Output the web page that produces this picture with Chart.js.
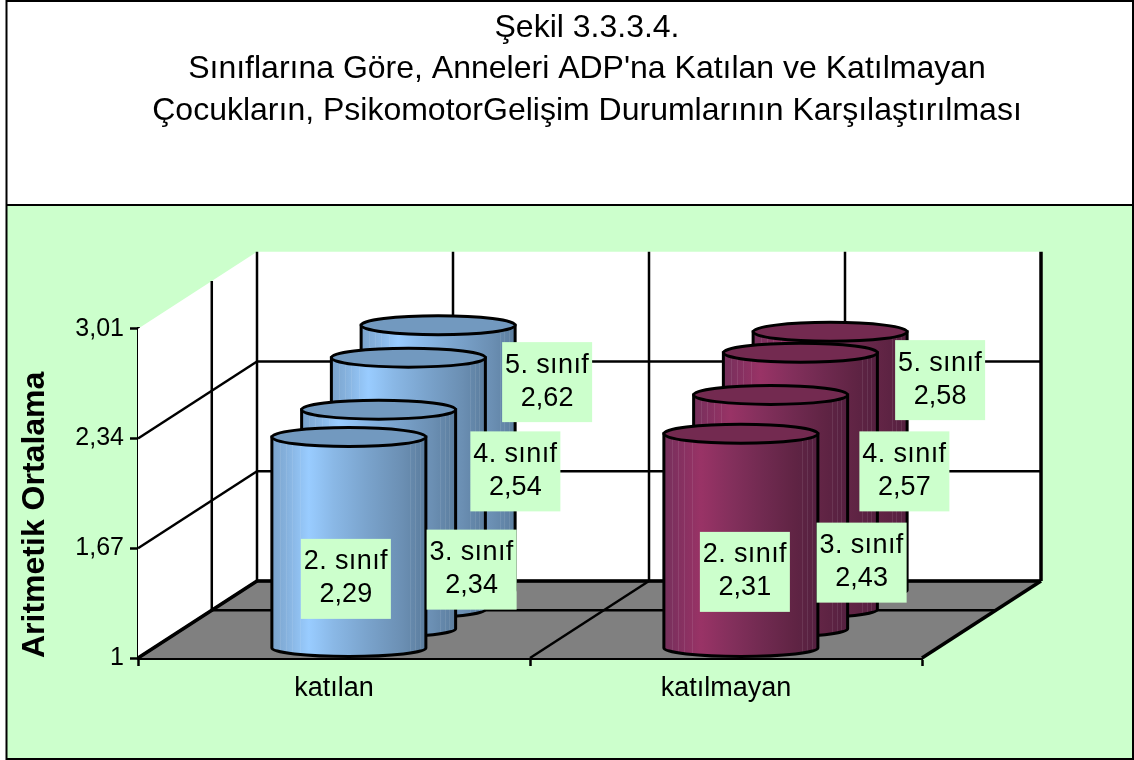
<!DOCTYPE html>
<html>
<head>
<meta charset="utf-8">
<style>html,body{margin:0;padding:0;background:#fff}canvas{display:block}</style>
<script src="https://cdn.jsdelivr.net/npm/chart.js@4/dist/chart.umd.js"></script>
</head>
<body>
<canvas id="c" width="1134" height="760"></canvas>
<script>
const categories = ['katılan', 'katılmayan'];
const seriesNames = ['2. sınıf', '3. sınıf', '4. sınıf', '5. sınıf'];
const sinif2 = [2.29, 2.31];
const sinif3 = [2.34, 2.43];
const sinif4 = [2.54, 2.57];
const sinif5 = [2.62, 2.58];
const yTicks = [1, 1.67, 2.34, 3.01];
const yTickLabels = ['1', '1,67', '2,34', '3,01'];
const titleLines = ['Şekil 3.3.3.4.', "Sınıflarına Göre, Anneleri ADP'na Katılan ve Katılmayan", 'Çocukların, PsikomotorGelişim Durumlarının Karşılaştırılması'];
const axisTitle = 'Aritmetik Ortalama';

const FONT = '"Liberation Sans", Arial, sans-serif';
const GREEN = '#ccffcc';
const DX = 119, DY = 77;            // projected depth of the 3D box
const SIDE_GRID_DEPTH = 0.62;       // depth of the marker line on the side wall
const blueStops = [[0,'#7aa3cc'],[0.1,'#86b2de'],[0.24,'#99ccff'],[0.4,'#8ab8e6'],[0.62,'#7aa3cc'],[0.85,'#6b8fb3'],[1,'#5b7d9e']];
const maroonStops = [[0,'#75305b'],[0.1,'#843060'],[0.24,'#993366'],[0.42,'#85305d'],[0.65,'#702a50'],[0.85,'#602444'],[1,'#552040']];
const capColor = ['#7299bf', '#732a50'];
const streakAt = [0.05, 0.09, 0.13, 0.18, 0.9, 0.93, 0.96];
// label-box centre, relative to the bar base centre (per category, per series)
const labelShift = [
  [[-3,-69],[93,-59],[107,-138],[109,-208]],
  [[4,-76],[91,-66],[104,-138],[110,-210]]
];

const cylinders = {
  id: 'cylinders',
  afterLayout(chart) {
    // the heading is centred over the whole frame rather than over the plot
    if (chart.titleBlock) { chart.titleBlock.left = 40; chart.titleBlock.right = 1134; }
  },
  beforeDraw(chart) {
    const c = chart.ctx;
    c.save();
    c.fillStyle = '#fff'; c.fillRect(0, 0, 1134, 760);
    c.fillStyle = GREEN; c.fillRect(6, 205, 1127, 554);
    c.strokeStyle = '#000'; c.lineWidth = 2;
    c.strokeRect(6.5, 1, 1126.5, 758);
    c.beginPath(); c.moveTo(6, 205); c.lineTo(1133, 205); c.stroke();
    c.restore();
  },
  beforeDatasetsDraw(chart) {
    const c = chart.ctx, a = chart.chartArea, y = chart.scales.y, x = chart.scales.x;
    const L = a.left, R = a.right, T = a.top, B = a.bottom;
    c.save();
    c.fillStyle = '#fff';
    c.beginPath();
    c.moveTo(L, T); c.lineTo(L + DX, T - DY); c.lineTo(R + DX, T - DY); c.lineTo(R + DX, B - DY); c.lineTo(L + DX, B - DY); c.lineTo(L, B);
    c.closePath(); c.fill();
    c.fillStyle = '#808080';
    c.beginPath();
    c.moveTo(L, B); c.lineTo(L + DX, B - DY); c.lineTo(R + DX, B - DY); c.lineTo(R, B);
    c.closePath(); c.fill();
    c.strokeStyle = '#000'; c.lineWidth = 2.5;
    const line = (x1, y1, x2, y2) => { c.beginPath(); c.moveTo(x1, y1); c.lineTo(x2, y2); c.stroke(); };
    yTicks.forEach(v => {
      if (v === yTicks[yTicks.length - 1]) return;
      const p = y.getPixelForValue(v);
      line(L, p, L + DX, p - DY);
      line(L + DX, p - DY, R + DX, p - DY);
    });
    const sx = L + DX * SIDE_GRID_DEPTH, sdy = DY * SIDE_GRID_DEPTH;
    line(sx, T - sdy, sx, B - sdy);
    line(sx, B - sdy, R + DX * SIDE_GRID_DEPTH, B - sdy);
    line(L + DX, T - DY, L + DX, B - DY);
    categories.forEach((_, i) => {
      const px = x.getPixelForValue(i);
      line(px + DX, T - DY, px + DX, B - DY);
    });
    const mid = (x.getPixelForValue(0) + x.getPixelForValue(1)) / 2;
    line(mid + DX, T - DY, mid + DX, B - DY);
    line(mid, B, mid + DX, B - DY);
    c.lineWidth = 3.5;
    line(R + DX, T - DY, R + DX, B - DY);
    line(L, B, L + DX, B - DY);
    line(R, B, R + DX, B - DY);
    line(L + DX, B - DY, R + DX, B - DY);
    c.restore();
  },
  afterDatasetsDraw(chart) {
    const c = chart.ctx, n = chart.data.datasets.length;
    c.save();
    for (let s = n - 1; s >= 0; s--) {
      const off = s + 0.5, ox = off * DX / n, oy = off * DY / n;
      chart.getDatasetMeta(s).data.forEach((el, i) => {
        const cx = el.x + ox, top = el.y - oy, base = el.base - oy, rx = el.width / 2;
        const grad = c.createLinearGradient(cx - rx, 0, cx + rx, 0);
        (i === 0 ? blueStops : maroonStops).forEach(p => grad.addColorStop(p[0], p[1]));
        const body = () => {
          c.beginPath();
          c.moveTo(cx - rx, top);
          c.lineTo(cx - rx, base);
          c.ellipse(cx, base, rx, 8.5, 0, Math.PI, 0, true);
          c.lineTo(cx + rx, top);
          c.closePath();
        };
        body();
        c.fillStyle = grad; c.fill();
        c.save();
        c.clip();
        c.strokeStyle = 'rgba(255,255,255,0.09)'; c.lineWidth = 1;
        streakAt.forEach(f => {
          const sxp = Math.round(cx - rx + f * 2 * rx) + 0.5;
          c.beginPath(); c.moveTo(sxp, top); c.lineTo(sxp, base + 10); c.stroke();
        });
        c.restore();
        body();
        c.strokeStyle = '#000'; c.lineWidth = 3; c.stroke();
        c.beginPath();
        c.ellipse(cx, top, rx, 9.5, 0, 0, Math.PI * 2);
        c.fillStyle = capColor[i]; c.fill(); c.stroke();
      });
    }
    for (let s = 0; s < n; s++) {
      const off = s + 0.5, ox = off * DX / n, oy = off * DY / n, ds = chart.data.datasets[s];
      chart.getDatasetMeta(s).data.forEach((el, i) => {
        const sh = labelShift[i][s];
        const lx = el.x + ox + sh[0], ly = el.base - oy + sh[1];
        c.fillStyle = GREEN;
        c.fillRect(lx - 45, ly - 40, 90, 80);
        c.fillStyle = '#000';
        c.font = '27px ' + FONT;
        c.textAlign = 'center'; c.textBaseline = 'middle';
        c.letterSpacing = '0.4px';
        c.fillText(ds.label, lx, ly - 17);
        c.letterSpacing = '0px';
        c.fillText(ds.data[i].toFixed(2).replace('.', ','), lx, ly + 16);
      });
    }
    c.restore();
  }
};

new Chart(document.getElementById('c'), {
  type: 'bar',
  data: {
    labels: categories,
    datasets: [sinif2, sinif3, sinif4, sinif5].map((d, i) => ({
      label: seriesNames[i], data: d, backgroundColor: 'rgba(0,0,0,0)', borderWidth: 0,
      grouped: false, barThickness: 154, base: yTicks[0]
    }))
  },
  plugins: [cylinders],
  options: {
    responsive: false,
    animation: false,
    events: [],
    layout: { padding: { left: 0, right: 212, top: 0, bottom: 0 } },
    plugins: {
      legend: { display: false },
      tooltip: { enabled: false },
      title: {
        display: true, text: titleLines, color: '#000', align: 'center',
        font: { family: FONT, size: 32, weight: 'normal', lineHeight: 1.3 },
        padding: { top: 7, bottom: 197 },
        fullSize: true
      }
    },
    scales: {
      x: {
        afterFit(s) { s.height = 102; },
        border: { display: true, color: '#000', width: 3 },
        grid: { display: true, drawOnChartArea: false, drawTicks: true, tickLength: 8, tickColor: '#000', tickWidth: 2.5 },
        ticks: { color: '#000', font: { family: FONT, size: 27 }, padding: 6, maxRotation: 0 }
      },
      y: {
        min: 1, max: 3.01,
        afterFit(s) { s.width = 138; },
        afterBuildTicks(s) { s.ticks = yTicks.map(v => ({ value: v })); },
        border: { display: true, color: '#000', width: 3 },
        grid: { display: true, drawOnChartArea: false, drawTicks: true, tickLength: 8, tickColor: '#000', tickWidth: 2.5 },
        ticks: {
          color: '#000', font: { family: FONT, size: 25 }, padding: 6,
          callback(v) { return yTickLabels[yTicks.indexOf(v)]; }
        },
        title: {
          display: true, text: axisTitle, color: '#000', align: 'start',
          font: { family: FONT, size: 32, weight: 'bold' }, padding: { top: 16, bottom: 0 }
        }
      }
    }
  }
});
</script>
</body>
</html>
